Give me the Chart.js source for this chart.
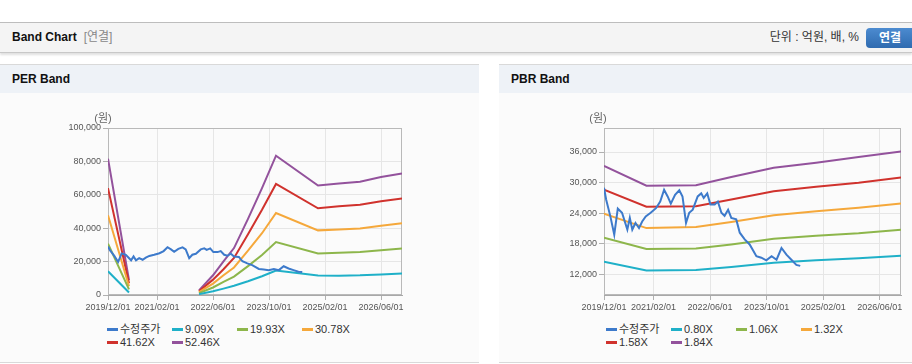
<!DOCTYPE html>
<html>
<head>
<meta charset="utf-8">
<script src="https://cdn.jsdelivr.net/npm/chart.js@4.4.0/dist/chart.umd.min.js"></script>
<style>
  body { margin: 0; width: 912px; height: 364px; overflow: hidden; background: #fff; position: relative;
         font-family: 'Liberation Sans', Arial, 'Noto Sans CJK KR', sans-serif; color: #222; }
  .head { position: absolute; left: 0; top: 22px; width: 912px; height: 29px; background: #f4f4f4;
          border-top: 1px solid #bdbdbd; border-bottom: 1px solid #c8c8c8; box-shadow: 0 2px 2px rgba(0,0,0,.12); }
  .head .title { position: absolute; left: 12px; top: 0; line-height: 29px; font-size: 12px; font-weight: bold; color: #111; }
  .head .title span { font-weight: normal; color: #888; margin-left: 7px; }
  .head .unit { position: absolute; right: 53px; top: 0; line-height: 29px; font-size: 12px; color: #333; }
  .head .btn { position: absolute; left: 866px; top: 5px; width: 50px; height: 20px; border-radius: 4px;
               background: linear-gradient(#4c8bd0, #2f6bb0); color: #fff; font-size: 12px; font-weight: bold;
               line-height: 20px; text-align: center; box-sizing: border-box; padding-right: 2px; }
  .panel { position: absolute; top: 64px; height: 297px; background: #fbfbfb;
           border-top: 1px solid #d9d9d9; border-bottom: 1px solid #d9d9d9; }
  .panel .bar { height: 28px; line-height: 28px; background: #eef2f7; font-size: 12px; font-weight: bold;
                padding-left: 12px; color: #111; }
  canvas { position: absolute; top: 93px; }
  .unitY { position: absolute; top: 109px; width: 30px; text-align: center; font-size: 11px; color: #666; }
  .legend { position: absolute; top: 323px; display: grid; grid-template-columns: repeat(4, 65px);
            grid-auto-rows: 13px; font-size: 11px; color: #333; }
  .legend div { white-space: nowrap; line-height: 13px; }
  .legend i { display: inline-block; width: 11px; height: 3px; vertical-align: middle; margin-right: 2px; position: relative; top: -1px; }
</style>
</head>
<body>
<div class="head">
  <div class="title">Band Chart<span>[연결]</span></div>
  <div class="unit">단위 : 억원, 배, %</div>
  <div class="btn">연결</div>
</div>

<div class="panel" style="left:0;width:479px"><div class="bar">PER Band</div></div>
<div class="panel" style="left:499px;width:413px"><div class="bar">PBR Band</div></div>

<canvas id="perChart" width="479" height="222" style="left:0"></canvas>
<canvas id="pbrChart" width="413" height="222" style="left:499px"></canvas>
<div class="unitY" style="left:88px">(원)</div>
<div class="unitY" style="left:583px">(원)</div>
<div class="legend" id="perLegend" style="left:107px"></div>
<div class="legend" id="pbrLegend" style="left:606px"></div>

<script>
// x axis = months since 2019/12/01
const xTickMonths = [0, 14, 30, 46, 62, 78];
const xTickLabels = ['2019/12/01', '2021/02/01', '2022/06/01', '2023/10/01', '2025/02/01', '2026/06/01'];

// 수정주가 (same line in both charts)
const priceMonths = [0, 0.6, 1.8, 2.9, 3.9, 5.1, 6.6, 7.3, 8.0, 8.9, 9.9, 10.8, 11.8, 13.2, 14.7, 15.9,
  17.0, 18.0, 18.9, 20.1, 21.3, 22.2, 23.2, 24.1, 25.1, 26.5, 27.5, 28.2, 29.2, 30.1, 31.3, 32.2,
  33.2, 34.1, 35.1, 36.0, 37.4, 38.4, 39.8, 41.2, 43.1, 44.5, 45.9, 47.4, 48.8, 50.2, 51.6, 53.0, 54.4, 55.5];
const priceValues = [29000, 26700, 23400, 19800, 24900, 24100, 20800, 23100, 20800, 22100, 21100, 22400, 23400, 24100, 25000, 26300,
  28600, 27300, 25900, 27600, 28500, 27300, 22100, 24100, 24700, 27300, 27900, 27000, 27900, 25700, 25700, 26300,
  24100, 23500, 24700, 23100, 22800, 20200, 18900, 17900, 15600, 15300, 14800, 15600, 14900, 17200, 15900, 14900, 13900, 13700];

// PER band lines (null = no data)
const perMonths = [0, 6, 16, 26, 30, 33, 36, 40, 44, 48, 60, 66, 72, 78, 84];
const per909  = [14200, 1500, null, 500, 2200, 3800, 5500, 8200, 11200, 14600, 11700, 11600, 11800, 12300, 12900];
const per1993 = [30700, 3400, null, 1100, 4500, 7800, 11000, 17300, 24000, 31700, 24900, 25300, 25800, 26800, 27900];
const per3078 = [47700, 5200, null, 1700, 6800, 11800, 16500, 26600, 37000, 49100, 38700, 39200, 39800, 41400, 42900];
const per4162 = [64000, 7000, null, 2200, 9200, 15400, 22200, 36400, 51000, 66500, 51900, 53100, 54100, 56100, 57800];
const per5246 = [81600, 8900, null, 2800, 11800, 20100, 28100, 45600, 64000, 83400, 65600, 66800, 67800, 70600, 72800];
const perLabels = ['9.09X', '19.93X', '30.78X', '41.62X', '52.46X'];
const perTicks = [0, 20000, 40000, 60000, 80000, 100000];

// PBR band lines
const pbrMonths = [0, 12, 26, 36, 48, 60, 72, 84];
const pbr080 = [14500, 12800, 12900, 13500, 14300, 14800, 15200, 15700];
const pbr106 = [19200, 17000, 17100, 17900, 19000, 19600, 20100, 20800];
const pbr132 = [23900, 21100, 21300, 22300, 23600, 24400, 25100, 25900];
const pbr158 = [28600, 25300, 25400, 26700, 28300, 29200, 30000, 31000];
const pbr184 = [33300, 29400, 29500, 31100, 32900, 33900, 35000, 36100];
const pbrLabels = ['0.80X', '1.06X', '1.32X', '1.58X', '1.84X'];
const pbrTicks = [12000, 18000, 24000, 30000, 36000];

const colors = ['#3d7acb', '#1fb0c8', '#8db64b', '#f5a83b', '#d0322d', '#93529c'];

function pts(xs, ys) { return xs.map((x, i) => ({ x: x, y: ys[i] })); }

function lineSet(label, data, color) {
  return { label: label, data: data, borderColor: color, backgroundColor: color,
           borderWidth: 2, pointRadius: 0, tension: 0, spanGaps: false };
}

const framePlugin = {
  id: 'frame',
  beforeDatasetsDraw(chart) {
    const a = chart.chartArea, ctx = chart.ctx;
    ctx.save();
    ctx.strokeStyle = '#b9b9b9';
    ctx.lineWidth = 1;
    ctx.strokeRect(Math.round(a.left) + 0.5, Math.round(a.top) + 0.5,
                   Math.round(a.width) - 1, Math.round(a.height) - 1);
    ctx.restore();
  }
};

function makeChart(id, datasets, yMin, yMax, yTicks, yWidth, padRight) {
  return new Chart(document.getElementById(id), {
    type: 'line',
    data: { datasets: datasets },
    plugins: [framePlugin],
    options: {
      responsive: false,
      animation: false,
      layout: { padding: { top: 35, right: padRight, left: 0, bottom: 0 } },
      plugins: { legend: { display: false }, tooltip: { enabled: false } },
      scales: {
        x: {
          type: 'linear', min: 0, max: 84,
          afterBuildTicks: s => { s.ticks = xTickMonths.map(v => ({ value: v })); },
          afterFit: s => { s.height = 20; },
          ticks: { callback: v => xTickLabels[xTickMonths.indexOf(v)], font: { size: 9, family: "'Liberation Sans', Arial" },
                   color: '#555', padding: 2, maxRotation: 0 },
          grid: { color: '#e6e6e6', tickLength: 5, tickColor: '#b0b0b0' },
          border: { color: '#a8a8a8' }
        },
        y: {
          min: yMin, max: yMax,
          afterBuildTicks: s => { s.ticks = yTicks.map(v => ({ value: v })); },
          afterFit: s => { s.width = yWidth; },
          ticks: { callback: v => v.toLocaleString('en-US'), font: { size: 9, family: "'Liberation Sans', Arial" },
                   color: '#555', padding: 2 },
          grid: { color: '#e6e6e6', tickLength: 5, tickColor: '#b0b0b0' },
          border: { color: '#a8a8a8' }
        }
      }
    }
  });
}

function buildLegend(el, chart) {
  chart.data.datasets.forEach(ds => {
    const d = document.createElement('div');
    d.innerHTML = '<i style="background:' + ds.borderColor + '"></i>' + ds.label;
    el.appendChild(d);
  });
}

const perSets = [lineSet('수정주가', pts(priceMonths, priceValues), colors[0])];
[per909, per1993, per3078, per4162, per5246].forEach((vals, i) => {
  perSets.push(lineSet(perLabels[i], pts(perMonths, vals), colors[i + 1]));
});
const pbrSets = [lineSet('수정주가', pts(priceMonths, priceValues), colors[0])];
[pbr080, pbr106, pbr132, pbr158, pbr184].forEach((vals, i) => {
  pbrSets.push(lineSet(pbrLabels[i], pts(pbrMonths, vals), colors[i + 1]));
});

const perChart = makeChart('perChart', perSets, 0, 100000, perTicks, 108, 77);
const pbrChart = makeChart('pbrChart', pbrSets, 8000, 40700, pbrTicks, 105, 11);
buildLegend(document.getElementById('perLegend'), perChart);
buildLegend(document.getElementById('pbrLegend'), pbrChart);
</script>
</body>
</html>
